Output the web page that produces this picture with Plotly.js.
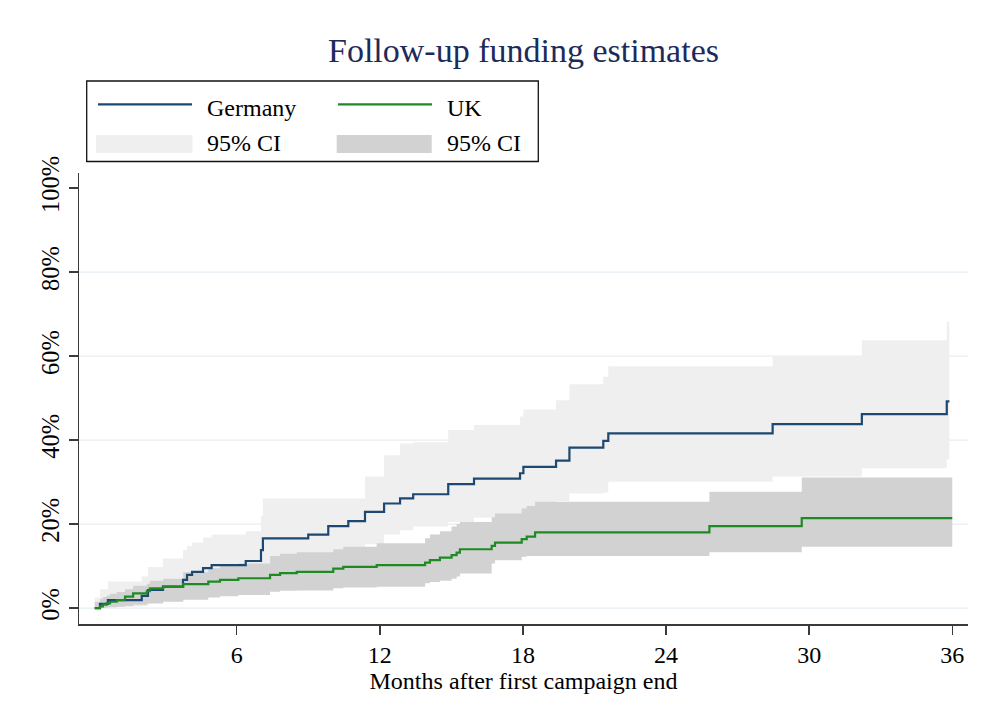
<!DOCTYPE html>
<html>
<head>
<meta charset="utf-8">
<script src="https://cdn.plot.ly/plotly-3.0.1.min.js"></script>
<style>html,body{margin:0;padding:0;background:#fff;}#chart{width:981px;height:720px;}</style>
</head>
<body>
<div id="chart"></div>
<script>
// ---- Data (months after first campaign end, cumulative % with follow-up funding) ----
const seriesNames = ["Germany", "UK"];
const ciName = "95% CI";

const deMonths = [0.05, 0.27, 0.6, 2.02, 2.28, 2.91, 3.75, 3.92, 4.13, 4.59, 4.95, 6.38, 7.02, 7.10, 9.00, 9.84, 10.68, 11.38, 12.18, 12.85, 13.40, 14.87, 15.95, 17.88, 18.02, 19.39, 19.95, 21.37, 21.58, 28.47, 32.21, 35.77, 35.88];
const deEstimate = [0, 1.0, 1.9, 2.9, 4.3, 5.1, 6.7, 7.9, 8.6, 9.5, 10.2, 11.2, 13.8, 16.6, 17.5, 19.5, 20.7, 22.9, 24.9, 26.1, 27.1, 29.5, 30.8, 32.1, 33.6, 35.1, 38.2, 39.8, 41.6, 43.8, 46.2, 49.2, 49.2];
const deLower = [0, 0, 0.3, 0.5, 1.2, 1.8, 2.8, 3.4, 3.9, 4.5, 5.0, 5.8, 8.0, 10.0, 10.8, 12.3, 13.4, 15.2, 17.5, 18.5, 19.4, 20.5, 21.5, 21.5, 22.5, 25.5, 27.3, 27.5, 30.1, 31.3, 33.3, 35.4, 35.4];
const deUpper = [2.5, 4.5, 6.3, 7.5, 9.8, 11.8, 13.8, 14.8, 15.6, 16.8, 17.5, 18.3, 22.0, 26.1, 26.1, 26.1, 26.1, 31.3, 36.4, 39.2, 39.5, 42.4, 43.6, 45.6, 47.3, 49.5, 53.3, 55.1, 57.6, 60.0, 63.8, 68.2, 68.2];

const ukMonths = [0.05, 0.27, 0.39, 0.55, 0.69, 0.97, 1.32, 1.66, 2.23, 2.36, 2.92, 3.76, 4.81, 5.30, 6.07, 7.40, 7.82, 8.52, 10.05, 10.47, 11.87, 13.90, 14.10, 14.52, 15.01, 15.22, 15.36, 16.69, 16.83, 17.95, 18.16, 18.51, 25.82, 29.69, 36.0];
const ukEstimate = [0, 0.4, 0.8, 1.1, 1.5, 1.9, 2.7, 3.5, 4.0, 4.7, 5.1, 5.7, 6.3, 6.7, 7.1, 7.9, 8.3, 8.6, 9.4, 9.8, 10.2, 10.8, 11.4, 12.0, 12.6, 13.2, 14.0, 14.8, 15.6, 16.4, 17.0, 18.0, 19.5, 21.4, 21.4];
const ukLower = [0, 0, 0, 0.1, 0.2, 0.3, 0.5, 0.8, 1.0, 1.1, 1.5, 2.0, 2.5, 2.8, 3.1, 3.9, 4.1, 4.2, 4.7, 4.9, 5.1, 5.9, 6.2, 6.5, 7.0, 7.5, 8.2, 10.6, 11.4, 12.2, 12.4, 12.4, 13.3, 14.6, 14.6];
const ukUpper = [1.5, 2.2, 2.6, 3.0, 3.4, 3.8, 4.5, 5.3, 5.8, 6.5, 7.0, 8.5, 9.5, 10.0, 10.6, 12.4, 12.9, 13.3, 14.0, 14.6, 15.4, 16.6, 17.5, 18.3, 19.4, 20.0, 20.5, 21.6, 22.5, 23.7, 24.3, 25.3, 27.7, 31.1, 31.1];

const xTicks = [6, 12, 18, 24, 30, 36];
const yTicks = [0, 20, 40, 60, 80, 100];
const yTickText = ["0%", "20%", "40%", "60%", "80%", "100%"];
const gridVals = [0, 20, 40, 60, 80];

// ---- Styles ----
const FONT = "Liberation Serif, Times New Roman, serif";
const deColor = "#1d4872";
const ukColor = "#1e8a24";
const deCI = "#efefef";
const ukCI = "#d2d2d2";
const axisColor = "#3a3a3a";

const W = 981, H = 720;
const M = {l: 79, r: 13, t: 173, b: 96};
const pw = W - M.l - M.r, ph = H - M.t - M.b;
const px = x => (x - M.l) / pw;
const py = y => (H - M.b - y) / ph;

const traces = [
  {x: deMonths, y: deLower, mode: "lines", line: {width: 0, shape: "hv"}, hoverinfo: "skip", showlegend: false},
  {x: deMonths, y: deUpper, mode: "lines", line: {width: 0, shape: "hv"}, fill: "tonexty", fillcolor: deCI, name: ciName, showlegend: false},
  {x: ukMonths, y: ukLower, mode: "lines", line: {width: 0, shape: "hv"}, hoverinfo: "skip", showlegend: false},
  {x: ukMonths, y: ukUpper, mode: "lines", line: {width: 0, shape: "hv"}, fill: "tonexty", fillcolor: ukCI, name: ciName, showlegend: false},
  {x: deMonths, y: deEstimate, mode: "lines", line: {color: deColor, width: 2.2, shape: "hv"}, name: seriesNames[0], showlegend: false},
  {x: ukMonths, y: ukEstimate, mode: "lines", line: {color: ukColor, width: 2.2, shape: "hv"}, name: seriesNames[1], showlegend: false}
];

const shapes = gridVals.map(v => ({
  type: "line", xref: "paper", x0: 0, x1: 1, yref: "y", y0: v, y1: v,
  line: {color: "#e5edf1", width: 1.3}, layer: "below"
}));

// custom legend (2 x 2 grid inside a framed box)
shapes.push({type: "rect", xref: "paper", yref: "paper", x0: px(86.7), x1: px(538.3), y0: py(161.5), y1: py(81),
  line: {color: "#111", width: 1.3}, fillcolor: "rgba(0,0,0,0)"});
shapes.push({type: "line", xref: "paper", yref: "paper", x0: px(98), x1: px(192), y0: py(104.3), y1: py(104.3), line: {color: deColor, width: 2.2}});
shapes.push({type: "line", xref: "paper", yref: "paper", x0: px(338), x1: px(432), y0: py(104.3), y1: py(104.3), line: {color: ukColor, width: 2.2}});
shapes.push({type: "rect", xref: "paper", yref: "paper", x0: px(96), x1: px(192.5), y0: py(153), y1: py(135), line: {width: 0}, fillcolor: deCI});
shapes.push({type: "rect", xref: "paper", yref: "paper", x0: px(336.7), x1: px(431.7), y0: py(153), y1: py(135), line: {width: 0}, fillcolor: ukCI});

const legFont = {family: FONT, size: 24, color: "#000"};
const annotations = [
  {text: seriesNames[0], x: px(205), y: py(108), xanchor: "left", yanchor: "middle"},
  {text: seriesNames[1], x: px(445), y: py(108), xanchor: "left", yanchor: "middle"},
  {text: ciName, x: px(205), y: py(143), xanchor: "left", yanchor: "middle"},
  {text: ciName, x: px(445), y: py(143), xanchor: "left", yanchor: "middle"}
].map(a => Object.assign(a, {xref: "paper", yref: "paper", showarrow: false, font: legFont}));

const layout = {
  width: W, height: H,
  margin: M,
  paper_bgcolor: "#fff", plot_bgcolor: "#fff",
  showlegend: false,
  title: {text: "Follow-up funding estimates", font: {family: FONT, size: 34, color: "#1c2b5a"},
    x: 0.5, xref: "paper", xanchor: "center", y: 1 - 50 / H, yref: "container", yanchor: "middle"},
  xaxis: {
    range: [-0.61, 36.66], tickvals: xTicks, ticks: "outside", ticklen: 9, tickwidth: 1.5, tickcolor: axisColor,
    showline: true, linecolor: axisColor, linewidth: 1.5, showgrid: false, zeroline: false, automargin: false,
    tickfont: {family: FONT, size: 24, color: "#000"},
    title: {text: "Months after first campaign end", font: {family: FONT, size: 24, color: "#000"}, standoff: 3}
  },
  yaxis: {
    range: [-3.8, 103.6], tickvals: yTicks, ticktext: yTickText, tickangle: -90,
    ticks: "outside", ticklen: 9, tickwidth: 1.5, tickcolor: axisColor,
    showline: true, linecolor: axisColor, linewidth: 1.5, showgrid: false, zeroline: false, automargin: false,
    tickfont: {family: FONT, size: 24.5, color: "#000"}
  },
  shapes: shapes,
  annotations: annotations
};

Plotly.newPlot("chart", traces, layout, {displayModeBar: false, staticPlot: true});
</script>
</body>
</html>
